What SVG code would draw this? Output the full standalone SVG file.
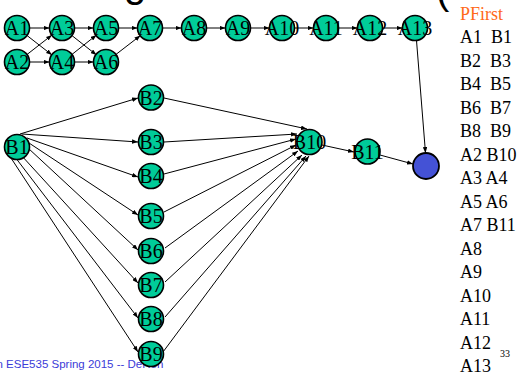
<svg xmlns="http://www.w3.org/2000/svg" width="521" height="377" viewBox="0 0 521 377">
  <style>
    .node circle { fill: #00cc99; stroke: #000; stroke-width: 1.6; }
    .node text { font-family: "Liberation Serif", "Times New Roman", serif; font-size: 20px; fill: #000; text-anchor: middle; }
    #sink circle { fill: #4452d6; stroke: #000; stroke-width: 1.8; }
    .edges path { fill: none; stroke: #000; stroke-width: 1; marker-end: url(#arrow); }
    .list { font-family: "Liberation Serif", "Times New Roman", serif; font-size: 18px; fill: #000; white-space: pre; }
    .title { font-family: "Liberation Sans", Arial, sans-serif; font-size: 40px; fill: #000; }
  </style>
  <defs>
    <marker id="arrow" viewBox="0 0 8 6" refX="8" refY="3" markerWidth="6" markerHeight="4.5" orient="auto" markerUnits="userSpaceOnUse">
      <path d="M0,0 L8,3 L0,6 z" fill="#000"/>
    </marker>
  </defs>

  <rect width="521" height="377" fill="#fff"/>

  <!-- clipped slide title -->
  <text class="title" x="124" y="-3">g</text>
  <text class="title" x="436" y="4">(</text>

  <!-- footer -->
  <text x="-3.5" y="368" font-family="Liberation Sans, Arial, sans-serif" font-size="11.5" fill="#3b3bd8">n ESE535 Spring 2015 -- DeHon</text>

  <!-- page number -->
  <text x="500" y="357" font-family="Liberation Serif, serif" font-size="10" fill="#000">33</text>

  <!-- priority list -->
  <g id="plist" class="list">
    <text x="460" y="19.5" fill="#ff6a1a">PFirst</text>
    <text x="460" y="43" xml:space="preserve">A1  B1</text>
    <text x="460" y="66.5" xml:space="preserve">B2  B3</text>
    <text x="460" y="90" xml:space="preserve">B4  B5</text>
    <text x="460" y="113.5" xml:space="preserve">B6  B7</text>
    <text x="460" y="137" xml:space="preserve">B8  B9</text>
    <text x="460" y="160.5">A2 B10</text>
    <text x="460" y="184">A3 A4</text>
    <text x="460" y="207.5">A5 A6</text>
    <text x="460" y="231">A7 B11</text>
    <text x="460" y="254.5">A8</text>
    <text x="460" y="278">A9</text>
    <text x="460" y="301.5">A10</text>
    <text x="460" y="325">A11</text>
    <text x="460" y="348.5">A12</text>
    <text x="460" y="372">A13</text>
  </g>

  <!-- connectors -->
  <g id="edges" class="edges">
    <path d="M29.5,28 L49.5,28"/>
    <path d="M29.5,62 L49.5,62"/>
    <path d="M27,35.5 L52,55"/>
    <path d="M27,54.5 L52,35"/>
    <path d="M74.5,28 L93.5,28"/>
    <path d="M74.5,62 L93.5,62"/>
    <path d="M72,35.6 L96.5,55"/>
    <path d="M72,54.4 L96.5,35"/>
    <path d="M118.5,28 L137.5,28"/>
    <path d="M116,54.4 L140.5,35.5"/>
    <path d="M162.5,28 L181.5,28"/>
    <path d="M206.5,28 L225.5,28"/>
    <path d="M250.5,28 L269.5,28"/>
    <path d="M294.5,28 L313.5,28"/>
    <path d="M338.5,28 L357.5,28"/>
    <path d="M382.5,28 L402.5,28"/>
    <path d="M416.5,40.5 L425.5,153"/>

    <path d="M20,134 L138,98"/>
    <path d="M22,134 L138,142"/>
    <path d="M27,138 L138,177"/>
    <path d="M29,143 L138,215"/>
    <path d="M28,148 L138,250"/>
    <path d="M21,155 L138,283"/>
    <path d="M15,157 L138,318"/>
    <path d="M11,158 L138,352"/>

    <path d="M164,98 L307,129"/>
    <path d="M164,142 L297,134"/>
    <path d="M164,174 L296,139"/>
    <path d="M164,212 L296,145"/>
    <path d="M165,248 L298,151"/>
    <path d="M165,282 L302,155"/>
    <path d="M165,317 L306,156"/>
    <path d="M163,352 L309,156"/>

    <path d="M322,145 L354,152"/>
    <path d="M380,155 L413,164"/>
  </g>

  <!-- nodes -->
  <g id="A1" class="node"><circle cx="17" cy="28" r="12.5"/><text x="17" y="35">A1</text></g>
  <g id="A2" class="node"><circle cx="17" cy="62" r="12.5"/><text x="17" y="69">A2</text></g>
  <g id="A3" class="node"><circle cx="62" cy="28" r="12.5"/><text x="62" y="35">A3</text></g>
  <g id="A4" class="node"><circle cx="62" cy="62" r="12.5"/><text x="62" y="69">A4</text></g>
  <g id="A5" class="node"><circle cx="106" cy="28" r="12.5"/><text x="106" y="35">A5</text></g>
  <g id="A6" class="node"><circle cx="106" cy="62" r="12.5"/><text x="106" y="69">A6</text></g>
  <g id="A7" class="node"><circle cx="150" cy="28" r="12.5"/><text x="150" y="35">A7</text></g>
  <g id="A8" class="node"><circle cx="194" cy="28" r="12.5"/><text x="194" y="35">A8</text></g>
  <g id="A9" class="node"><circle cx="238" cy="28" r="12.5"/><text x="238" y="35">A9</text></g>
  <g id="A10" class="node"><circle cx="282" cy="28" r="12.5"/><text x="282" y="35">A10</text></g>
  <g id="A11" class="node"><circle cx="326" cy="28" r="12.5"/><text x="326" y="35">A11</text></g>
  <g id="A12" class="node"><circle cx="370" cy="28" r="12.5"/><text x="370" y="35">A12</text></g>
  <g id="A13" class="node"><circle cx="415" cy="28" r="12.5"/><text x="415" y="35">A13</text></g>

  <g id="B1" class="node"><circle cx="17" cy="147" r="12.5"/><text x="17" y="154">B1</text></g>
  <g id="B2" class="node"><circle cx="151" cy="97.5" r="12.5"/><text x="151" y="104.5">B2</text></g>
  <g id="B3" class="node"><circle cx="151" cy="142" r="12.5"/><text x="151" y="149">B3</text></g>
  <g id="B4" class="node"><circle cx="151" cy="176" r="12.5"/><text x="151" y="183">B4</text></g>
  <g id="B5" class="node"><circle cx="151" cy="216" r="12.5"/><text x="151" y="223">B5</text></g>
  <g id="B6" class="node"><circle cx="151" cy="251" r="12.5"/><text x="151" y="258">B6</text></g>
  <g id="B7" class="node"><circle cx="151" cy="285" r="12.5"/><text x="151" y="292">B7</text></g>
  <g id="B8" class="node"><circle cx="151" cy="319" r="12.5"/><text x="151" y="326">B8</text></g>
  <g id="B9" class="node"><circle cx="151" cy="354" r="12.5"/><text x="151" y="361">B9</text></g>
  <g id="B10" class="node"><circle cx="309.5" cy="142" r="12.5"/><text x="309.5" y="149">B10</text></g>
  <g id="B11" class="node"><circle cx="367.5" cy="151.5" r="12.5"/><text x="367.5" y="158.5">B11</text></g>

  <g id="sink"><circle cx="426" cy="166" r="13"/></g>
</svg>
